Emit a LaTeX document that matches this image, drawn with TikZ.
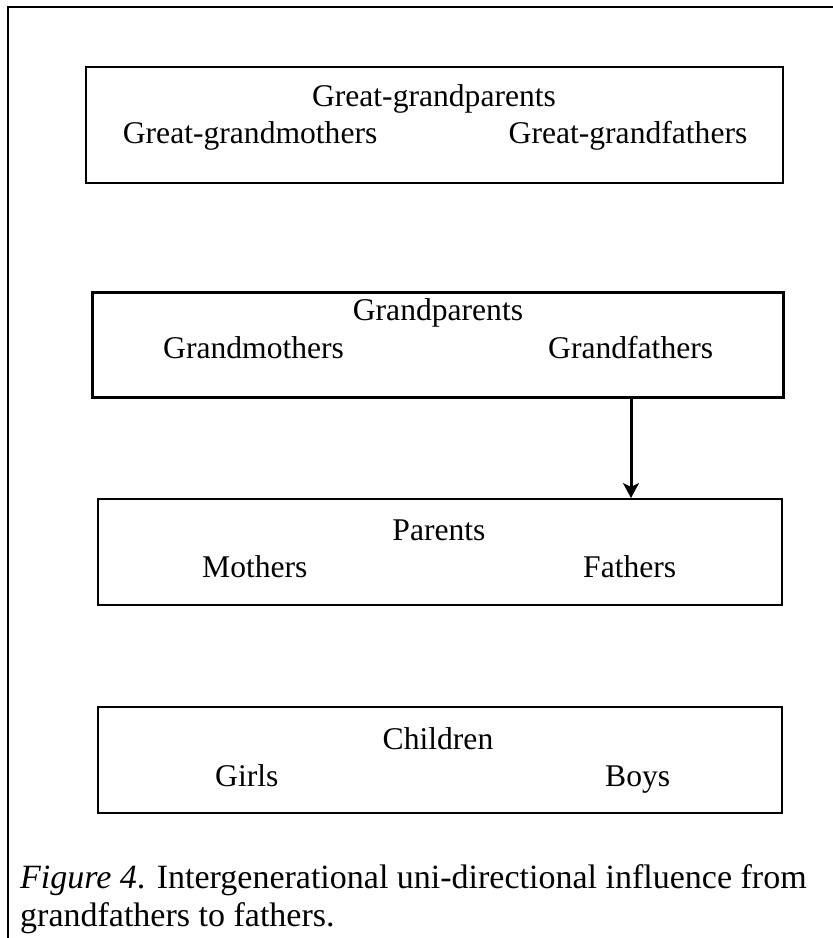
\documentclass[tikz,border=0pt]{standalone}
\usepackage{fontspec}
\setmainfont{Liberation Serif}
\usetikzlibrary{arrows.meta}
\begin{document}
\begin{tikzpicture}[x=1pt,y=-1pt,
  genbox/.style={draw=black,line width=2pt,minimum width=#1,inner sep=0pt},
  boxtext/.style={font=\fontsize{31.6}{36}\selectfont,inner sep=0pt,anchor=base},
  sidetext/.style={boxtext,anchor=base west},
  captext/.style={font=\fontsize{34}{40}\selectfont,inner sep=0pt,anchor=base west}]
\useasboundingbox (0,0) rectangle (833,938);
% open frame: top and left rules only
\draw[line width=2pt] (8,938) -- (8,7) -- (833,7);

% generation boxes
\node[genbox=697pt,minimum height=116pt] (ggp) at (434.5,125) {};
\node[genbox=691pt,minimum height=105pt,line width=3pt] (gp) at (437.5,344.5) {};
\node[genbox=684pt,minimum height=106pt] (par) at (440,552) {};
\node[genbox=684pt,minimum height=106pt] (chi) at (440,760) {};

% box texts
\node[boxtext] (ggpT) at (434,106.7) {Great-grandparents};
\node[sidetext] (ggpM) at (122.7,143.3) {Great-grandmothers};
\node[sidetext] (ggpF) at (508.5,143.3) {Great-grandfathers};

\node[boxtext] (gpT) at (438,320) {Grandparents};
\node[sidetext] (gpM) at (163,358.3) {Grandmothers};
\node[sidetext] (gpF) at (548,358.3) {Grandfathers};

\node[boxtext] (parT) at (439,540) {Parents};
\node[sidetext] (parM) at (202,577) {Mothers};
\node[sidetext] (parF) at (583,577) {Fathers};

\node[boxtext] (chiT) at (438,749) {Children};
\node[sidetext] (chiG) at (215,786) {Girls};
\node[sidetext] (chiB) at (605,786) {Boys};

% influence from grandfathers to fathers
\coordinate (ax) at (631,0);
\draw[line width=3pt,-{Stealth[length=15pt,width=16pt,inset=4pt]}]
  (gp.south -| ax) -- (par.north -| ax);

% caption
\node[captext] (cap1) at (20,888) {\textit{Figure 4}. Intergenerational uni-directional influence from};
\node[captext] (cap2) at (20,926) {grandfathers to fathers.};
\end{tikzpicture}
\end{document}
